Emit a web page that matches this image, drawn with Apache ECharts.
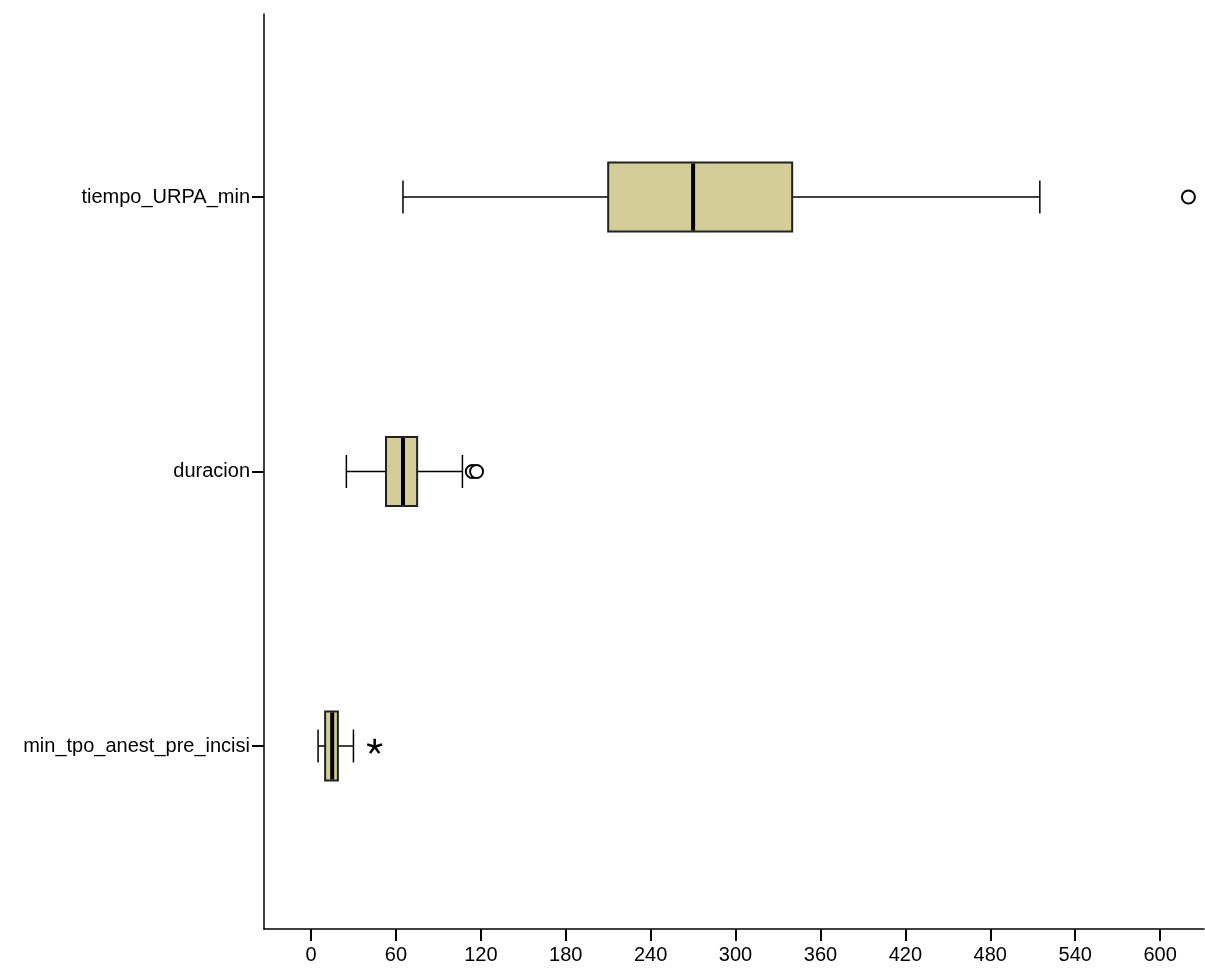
<!DOCTYPE html>
<html>
<head>
<meta charset="utf-8">
<script src="https://cdn.jsdelivr.net/npm/echarts@6/dist/echarts.min.js"></script>
<style>
  html, body { margin: 0; padding: 0; background: #fff; }
  #chart { width: 1205px; height: 968px; }
</style>
</head>
<body>
<div id="chart"></div>
<script>
  // variables, top to bottom
  const categories = ['tiempo_URPA_min', 'duracion', 'min_tpo_anest_pre_incisi']
  // [min whisker, Q1, median, Q3, max whisker] in minutes
  const boxValues = [
    [65, 210, 270, 340, 515],
    [25, 53, 65, 75, 107],
    [5, 10, 15, 19, 30]
  ]
  // outliers: [value, category index]
  const circleOutliers = [[620, 0], [114, 1], [117, 1]]
  const extremeOutliers = [[45, 2]]
  const xTicks = [0, 60, 120, 180, 240, 300, 360, 420, 480, 540, 600]

  const font = '"Liberation Sans", Arial, sans-serif'
  const boxColor = '#D3CD97'

  const chart = echarts.init(document.getElementById('chart'))

  // draw one box with whiskers
  const renderBox = (params, api) => {
    const idx = api.value(0)
    const pMin = api.coord([api.value(1), idx])
    const pQ1 = api.coord([api.value(2), idx])
    const pMed = api.coord([api.value(3), idx])
    const pQ3 = api.coord([api.value(4), idx])
    const pMax = api.coord([api.value(5), idx])
    const y = pMin[1]
    const boxH = 69
    const capH = 33
    const line = { stroke: '#000', lineWidth: 1.5 }
    return {
      type: 'group',
      children: [
        { type: 'line', shape: { x1: pMin[0], y1: y, x2: pQ1[0], y2: y }, style: line },
        { type: 'line', shape: { x1: pQ3[0], y1: y, x2: pMax[0], y2: y }, style: line },
        { type: 'line', shape: { x1: pMin[0], y1: y - capH / 2, x2: pMin[0], y2: y + capH / 2 }, style: line },
        { type: 'line', shape: { x1: pMax[0], y1: y - capH / 2, x2: pMax[0], y2: y + capH / 2 }, style: line },
        {
          type: 'rect',
          shape: { x: pQ1[0], y: y - boxH / 2, width: pQ3[0] - pQ1[0], height: boxH },
          style: { fill: boxColor, stroke: '#222', lineWidth: 2 }
        },
        {
          type: 'line',
          shape: { x1: pMed[0], y1: y - boxH / 2 + 1, x2: pMed[0], y2: y + boxH / 2 - 1 },
          style: { stroke: '#000', lineWidth: 4 }
        }
      ]
    }
  }

  const asterisk = 'path://M0,0L0,-1M0,0L0.951,-0.309M0,0L0.588,0.809M0,0L-0.588,0.809M0,0L-0.951,-0.309'

  chart.setOption({
    animation: false,
    grid: { left: 264, right: 1, top: 14, bottom: 39 },
    xAxis: {
      type: 'value',
      min: -33.2,
      max: 631,
      axisLine: { show: true, onZero: false, lineStyle: { color: '#000', width: 1.5 } },
      axisTick: { show: true, length: 12, customValues: xTicks, lineStyle: { color: '#000', width: 2 } },
      axisLabel: { customValues: xTicks, color: '#000', fontSize: 20, fontFamily: font, margin: 16 },
      splitLine: { show: false }
    },
    yAxis: {
      type: 'value',
      inverse: true,
      min: -2 / 3,
      max: 8 / 3,
      axisLine: { show: true, onZero: false, lineStyle: { color: '#000', width: 1.5 } },
      axisTick: { show: true, length: 12, customValues: [0, 1, 2], lineStyle: { color: '#000', width: 2 } },
      axisLabel: {
        customValues: [0, 1, 2],
        formatter: (v) => categories[Math.round(v)],
        color: '#000',
        fontSize: 20,
        fontFamily: font,
        margin: 14
      },
      splitLine: { show: false }
    },
    series: [
      {
        type: 'custom',
        renderItem: renderBox,
        encode: { x: [1, 2, 3, 4, 5], y: 0 },
        data: boxValues.map((b, i) => [i, ...b]),
        z: 2
      },
      {
        type: 'scatter',
        symbol: 'circle',
        symbolSize: 13,
        itemStyle: { color: '#fff', borderColor: '#000', borderWidth: 2, opacity: 1 },
        data: circleOutliers,
        z: 3
      },
      {
        type: 'scatter',
        symbol: asterisk,
        symbolKeepAspect: true,
        symbolSize: 15,
        itemStyle: { color: 'none', borderColor: '#000', borderWidth: 2.5, opacity: 1 },
        data: extremeOutliers,
        z: 3
      }
    ]
  })
</script>
</body>
</html>
